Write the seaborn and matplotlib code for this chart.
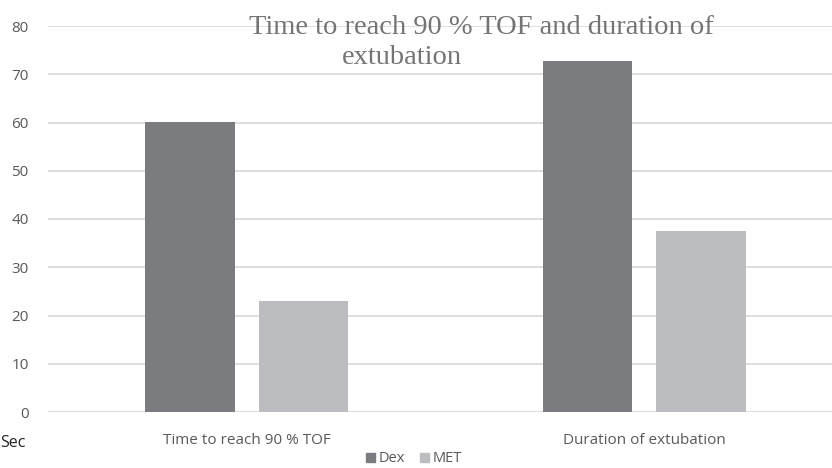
import pandas as pd
import numpy as np
import seaborn as sns
import matplotlib.pyplot as plt

categories = ["Time to reach 90 % TOF", "Duration of extubation"]
groups = ["Dex", "MET"]
dex_values = [60.1, 72.8]
met_values = [23.1, 37.6]

df = pd.DataFrame({
    "category": categories * 2,
    "group": ["Dex"] * 2 + ["MET"] * 2,
    "value": dex_values + met_values,
})

sns.set_style("white")
plt.rcParams['font.family'] = ['Open Sans', 'DejaVu Sans']

fig = plt.figure(figsize=(8.32, 4.68), dpi=100)
ax = fig.add_axes([48 / 832, 56 / 468, 795 / 832, 386 / 468])

palette = {"Dex": "#7b7c80", "MET": "#bcbdc0"}
sns.barplot(data=df, x="category", y="value", hue="group", hue_order=groups,
            palette=palette, width=0.572, gap=0.211, saturation=1,
            edgecolor="none", ax=ax, legend=False)

ax.set_ylim(0, 80)
ax.set_yticks(np.arange(0, 81, 10))
ax.yaxis.grid(True, color="#d9d9d9", linewidth=1.2)
ax.set_axisbelow(True)
for s in ax.spines.values():
    s.set_visible(False)
ax.tick_params(axis="both", length=0, labelsize=11, colors="#595959")
ax.tick_params(axis="y", pad=14)
ax.tick_params(axis="x", pad=15)
ax.set_xlabel("")
ax.set_ylabel("")

title_font = ["Liberation Serif", "DejaVu Serif"]
fig.text(481 / 832, 1 - 28 / 468, "Time to reach 90 % TOF and duration of",
         ha="center", va="center", fontsize=20.5, color="#747474", family=title_font)
fig.text(402 / 832, 1 - 58 / 468, "extubation",
         ha="center", va="center", fontsize=20.5, color="#747474", family=title_font)

fig.text(0, 1 - 443 / 468, "Sec", ha="left", va="center", fontsize=11.5, color="#222222")

handles = [plt.Rectangle((0, 0), 1, 1, color=palette[g]) for g in groups]
fig.legend(handles, groups, loc="center", bbox_to_anchor=(414 / 832, 1 - 459 / 468),
           ncol=2, frameon=False, fontsize=10.5, labelcolor="#595959",
           handlelength=0.6, handleheight=0.6, handletextpad=0.3, columnspacing=1.0,
           borderpad=0.1)

fig.savefig("out.png", dpi=100)
